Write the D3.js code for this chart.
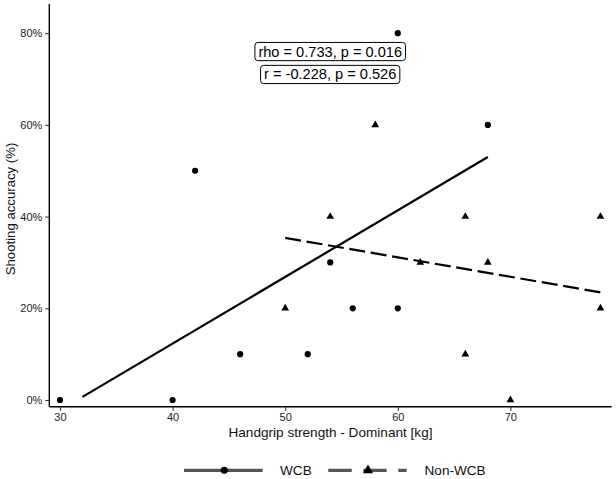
<!DOCTYPE html>
<html><head><meta charset="utf-8">
<script src="https://cdn.jsdelivr.net/npm/d3@7"></script>
<style>body{margin:0;background:#fff}svg{display:block}</style>
</head><body><div id="chart"></div>
<script>
const wcbX = [30, 40, 42, 46, 52, 54, 56, 60, 60, 68];
const wcbY = [0, 0, 50, 10, 10, 30, 20, 20, 80, 60];
const nonX = [50, 54, 58, 62, 66, 66, 68, 70, 78, 78];
const nonY = [20, 40, 60, 30, 40, 10, 30, 0, 40, 20];
const wcbFitRange = [32, 68];
const nonFitRange = [50, 78];
const xTicks = [30, 40, 50, 60, 70];
const yTicks = [0, 20, 40, 60, 80];
const statLabels = ["rho = 0.733, p = 0.016", "r = -0.228, p = 0.526"];
const statPos = [[54, 76], [54, 71]];
const legendLabels = ["WCB", "Non-WCB"];

const W = 616, H = 479;
const svg = d3.select("#chart").append("svg").attr("width", W).attr("height", H);
const font = "'Liberation Sans', Arial, sans-serif";

const x = d3.scaleLinear().domain([29.05, 79.0]).range([49.3, 611.7]);
const y = d3.scaleLinear().domain([-1.46, 86.37]).range([406.7, 4]);

function fit(xs, ys) {
  const mx = d3.mean(xs), my = d3.mean(ys);
  let sxy = 0, sxx = 0;
  xs.forEach((v, i) => { sxy += (v - mx) * (ys[i] - my); sxx += (v - mx) ** 2; });
  const b = sxy / sxx;
  return v => my + b * (v - mx);
}

// axes
const xAxis = d3.axisBottom(x).tickValues(xTicks).tickSize(4).tickPadding(3);
const yAxis = d3.axisLeft(y).tickValues(yTicks).tickSize(4).tickPadding(3).tickFormat(d => d + "%");
const gx = svg.append("g").attr("transform", "translate(0,406.7)").call(xAxis);
const gy = svg.append("g").attr("transform", "translate(49.3,0)").call(yAxis);
[gx, gy].forEach(g => {
  g.select(".domain").attr("stroke", "#000").attr("stroke-width", 1.4);
  g.selectAll(".tick line").attr("stroke", "#333").attr("stroke-width", 1.1);
  g.selectAll(".tick text").attr("fill", "#222").attr("font-size", 11).attr("font-family", font);
});
gx.select(".domain").attr("d", "M49.3,0H611.7");
gy.select(".domain").attr("d", "M0,406.7V4");

// axis titles
svg.append("text").attr("x", 330.5).attr("y", 437).attr("text-anchor", "middle")
  .attr("font-family", font).attr("font-size", 13.6).attr("fill", "#111")
  .text("Handgrip strength - Dominant [kg]");
svg.append("text").attr("transform", "translate(15,209) rotate(-90)").attr("text-anchor", "middle")
  .attr("font-family", font).attr("font-size", 13.2).attr("fill", "#111")
  .text("Shooting accuracy (%)");

// regression lines
const fW = fit(wcbX, wcbY), fN = fit(nonX, nonY);
const line = d3.line().x(d => x(d[0])).y(d => y(d[1]));
svg.append("path").attr("d", line(wcbFitRange.map(v => [v, fW(v)])))
  .attr("fill", "none").attr("stroke", "#000").attr("stroke-width", 2.2);
svg.append("path").attr("d", line(nonFitRange.map(v => [v, fN(v)])))
  .attr("fill", "none").attr("stroke", "#000").attr("stroke-width", 2.2)
  .attr("stroke-dasharray", "16,5.7");

// points
svg.append("g").selectAll("circle").data(wcbX).join("circle")
  .attr("cx", d => x(d)).attr("cy", (d, i) => y(wcbY[i])).attr("r", 3.1).attr("fill", "#000");
const tri = d3.symbol().type(d3.symbolTriangle).size(26);
svg.append("g").selectAll("path").data(nonX).join("path")
  .attr("d", tri).attr("transform", (d, i) => `translate(${x(d)},${y(nonY[i])})`).attr("fill", "#000");

// stat labels
statLabels.forEach((t, i) => {
  const g = svg.append("g");
  const cx = x(statPos[i][0]), cy = y(statPos[i][1]);
  const txt = g.append("text").attr("x", cx).attr("y", cy).attr("text-anchor", "middle")
    .attr("dominant-baseline", "central").attr("font-family", font).attr("font-size", 14.6)
    .attr("fill", "#000").text(t);
  const w = txt.node().getComputedTextLength();
  g.insert("rect", "text").attr("x", cx - w / 2 - 3.5).attr("y", cy - 9.1).attr("width", w + 7).attr("height", 18.2)
    .attr("rx", 3).attr("fill", "#fff").attr("stroke", "#000").attr("stroke-width", 1);
});

// legend
const ly = 470.3;
const lg = svg.append("g");
lg.append("line").attr("x1", 184).attr("x2", 262.7).attr("y1", ly).attr("y2", ly)
  .attr("stroke", "#555").attr("stroke-width", 3.2);
lg.append("circle").attr("cx", 224.3).attr("cy", ly).attr("r", 3.5).attr("fill", "#000");
lg.append("text").attr("x", 280).attr("y", ly).attr("dominant-baseline", "central")
  .attr("font-family", font).attr("font-size", 13.6).attr("fill", "#111").text(legendLabels[0]);
lg.append("line").attr("x1", 328.3).attr("x2", 406.7).attr("y1", ly).attr("y2", ly)
  .attr("stroke", "#555").attr("stroke-width", 3.2).attr("stroke-dasharray", "23.4,11.6");
lg.append("path").attr("d", d3.symbol().type(d3.symbolTriangle).size(44))
  .attr("transform", `translate(368,${ly})`).attr("fill", "#000");
lg.append("text").attr("x", 424.5).attr("y", ly).attr("dominant-baseline", "central")
  .attr("font-family", font).attr("font-size", 13.6).attr("fill", "#111").text(legendLabels[1]);
</script></body></html>
